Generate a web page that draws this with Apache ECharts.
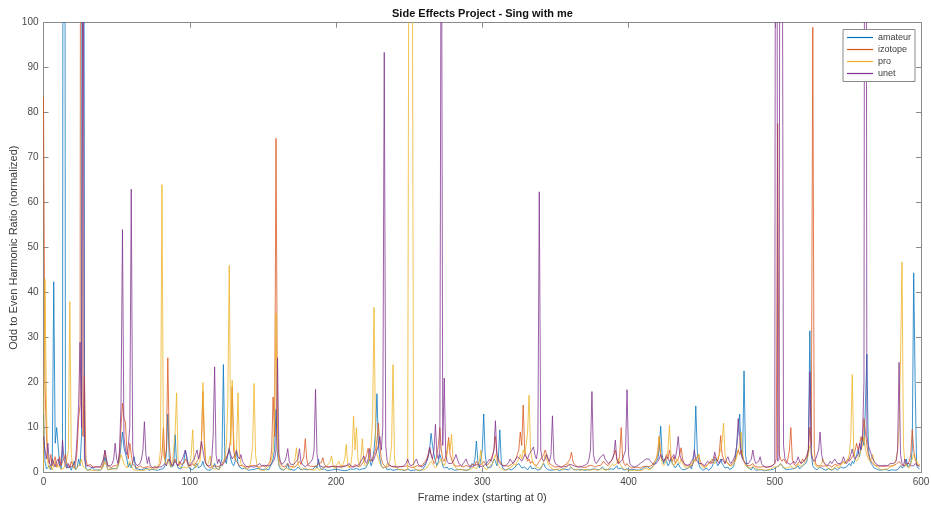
<!DOCTYPE html>
<html>
<head>
<meta charset="utf-8">
<script src="https://cdn.jsdelivr.net/npm/echarts@6/dist/echarts.min.js"></script>
<style>
html,body{margin:0;padding:0;background:#fff;}
#chart{width:931px;height:508px;}
</style>
</head>
<body>
<div id="chart"></div>
<script>
const seriesNames = ['amateur', 'izotope', 'pro', 'unet'];
const xTicks = [0, 100, 200, 300, 400, 500, 600];
const yTicks = [0, 10, 20, 30, 40, 50, 60, 70, 80, 90, 100];

const amateur = [
13, 2.5, 0.8, 0.4, 1.5, 0.6, 2.2, 42.4, 6.5, 10,
9.6, 2, 0.8, 4, 400, 3, 1, 0.6, 1.2, 0.5,
0.8, 2.5, 0.6, 1.1, 3, 1.5, 8, 400, 5, 1,
0.5, 0.8, 0.6, 1.2, 0.9, 0.5, 0.7, 0.6, 0.8, 0.5,
0.7, 1.5, 3.5, 1.8, 0.6, 0.5, 0.8, 0.4, 0.9, 1.2,
0.8, 1.5, 3, 6, 9, 5.5, 5.5, 3, 1.2, 2,
1, 0.8, 3.5, 0.9, 0.5, 0.7, 0.4, 0.6, 0.5, 0.8,
0.6, 1, 0.5, 0.4, 0.7, 0.5, 0.6, 0.8, 0.5, 0.6,
0.7, 0.5, 0.9, 1.5, 4, 13, 3, 1.2, 0.8, 1.5,
8.4, 2, 1, 0.6, 0.8, 1.2, 2.5, 5, 3.5, 1.5,
0.8, 1, 0.6, 0.8, 1.5, 2, 1, 0.7, 1.5, 2.5,
1.2, 0.8, 0.6, 0.9, 0.5, 0.7, 1.2, 2, 1, 0.8,
0.6, 1, 3, 24, 3, 2, 4, 5.5, 3, 2,
1.5, 2.5, 4.5, 2, 1.2, 1.5, 0.8, 0.6, 1, 0.7,
0.5, 0.8, 0.6, 0.4, 0.7, 0.5, 0.9, 0.6, 0.8, 1,
0.6, 0.5, 0.8, 1.2, 0.6, 1, 2, 3, 5, 14,
4, 1.5, 0.8, 0.6, 0.5, 0.8, 1, 2, 0.7, 0.5,
0.6, 0.8, 0.5, 0.7, 1.2, 0.9, 0.6, 0.5, 0.8, 1,
0.6, 0.5, 0.7, 0.4, 0.6, 0.8, 1.5, 1, 3, 1.2,
0.7, 0.5, 0.8, 0.6, 0.4, 0.6, 0.5, 0.8, 0.6, 0.5,
0.7, 0.4, 0.6, 0.8, 0.5, 0.6, 0.4, 0.7, 0.5, 0.6,
0.8, 0.5, 0.7, 0.6, 0.9, 0.5, 0.6, 1, 0.8, 0.6,
0.9, 1.2, 2, 3, 1.5, 2.5, 5, 9, 17.5, 6,
3, 1.5, 1, 0.8, 1.2, 0.6, 0.5, 0.8, 0.6, 0.5,
0.4, 0.6, 0.5, 0.7, 0.4, 0.6, 0.5, 0.4, 0.6, 0.8,
0.5, 0.4, 0.6, 0.5, 0.8, 0.6, 0.5, 0.4, 0.7, 0.6,
0.9, 1.5, 2.5, 3.5, 5, 8.7, 6, 4, 2.5, 1.5,
2.5, 4, 3, 1.5, 1, 0.8, 1.2, 0.7, 0.6, 0.9,
0.6, 0.5, 0.8, 0.6, 0.4, 0.7, 0.5, 0.6, 0.4, 0.5,
0.8, 0.6, 1.2, 2, 1.5, 3, 7, 2.5, 1, 0.8,
5, 13, 4, 1.5, 1, 0.8, 1.2, 2, 3, 2.5,
1.5, 3, 9.5, 2.5, 1, 0.7, 0.5, 0.6, 0.8, 0.5,
0.6, 0.8, 1, 1.5, 1.2, 2, 1.5, 1, 0.8, 1.2,
0.9, 0.6, 1, 1.5, 0.8, 0.6, 1, 0.7, 0.5, 0.6,
0.8, 1.5, 2, 1.2, 0.8, 0.6, 0.9, 0.5, 0.7, 0.6,
0.5, 0.7, 0.6, 0.4, 0.6, 0.8, 0.5, 0.7, 0.9, 0.6,
0.8, 1.2, 0.7, 0.5, 0.6, 0.8, 0.6, 0.5, 0.7, 0.6,
0.5, 0.4, 0.6, 0.8, 0.6, 1, 0.8, 0.6, 0.7, 0.5,
0.6, 0.9, 1.2, 0.8, 0.6, 0.5, 0.7, 0.6, 0.8, 0.5,
0.7, 1, 1.5, 0.8, 0.6, 1, 0.7, 0.5, 0.6, 0.8,
0.5, 0.6, 0.4, 0.7, 0.5, 0.6, 0.8, 0.5, 0.6, 0.7,
0.9, 1.2, 1.5, 1.3, 1, 0.8, 1.2, 1.5, 2, 2.5,
3, 5, 10.3, 4, 2, 3, 2.5, 1.5, 2, 3,
2, 1.5, 1, 1.5, 2, 1.2, 0.8, 0.6, 0.5, 0.7,
0.8, 1, 1.5, 0.8, 2, 4, 14.8, 5, 2, 1,
0.7, 0.5, 0.8, 1, 0.6, 0.5, 0.7, 1.2, 2, 3,
2.5, 1.5, 2, 3, 2, 1.5, 1, 0.8, 1.2, 0.7,
0.6, 1, 1.5, 3, 6, 9, 13, 5, 3, 22.6,
4, 1.5, 1, 0.8, 0.6, 1.2, 0.8, 0.5, 0.7, 0.6,
0.8, 0.6, 0.5, 0.4, 0.6, 0.5, 0.8, 0.6, 0.5, 0.7,
0.8, 1.2, 0.9, 1.5, 2, 1.5, 1, 0.8, 0.6, 0.5,
0.7, 1, 0.8, 0.6, 0.9, 1.2, 1.5, 0.8, 1, 1.5,
1.2, 2, 2.5, 5, 31.5, 4, 1.5, 1, 0.8, 0.6,
0.7, 1.2, 1, 0.8, 0.6, 0.5, 0.7, 0.9, 0.6, 0.5,
0.8, 1, 0.7, 0.6, 0.8, 1.2, 1.5, 1, 0.8, 1.2,
1.5, 2, 1.5, 2.5, 2, 3, 4, 5, 3.5, 6,
8, 6, 15, 26.3, 5, 3, 2, 1.5, 1, 0.8,
0.7, 0.6, 0.5, 0.8, 0.6, 0.5, 0.7, 0.6, 0.4, 0.5,
0.6, 0.8, 0.5, 0.7, 0.6, 1, 1.5, 1, 0.8, 1.5,
3, 1.2, 0.8, 2, 5, 44.4, 20, 1.5, 1, 0.8
];

const izotope = [
83.5, 20, 8, 3, 2, 4, 1.5, 2.5, 3.5, 1.2,
2, 3.5, 1.5, 2.5, 3, 4, 2, 1.5, 1, 2.5,
1.5, 1, 2, 5, 12, 15, 400, 8, 21.5, 3,
1.5, 1.2, 1.8, 1.5, 1.2, 1, 1.3, 1.5, 1.2, 1,
1.2, 2.5, 4.8, 3, 1.5, 1.2, 1, 1.3, 1.5, 1.2,
1.5, 2, 4, 10, 15.4, 12, 11.3, 5, 3, 6.5,
4, 2, 1.5, 1.2, 1, 1.3, 1.5, 1.2, 1, 1.4,
1.2, 1, 1.3, 1.1, 1, 1.2, 1.4, 1.2, 1, 1.5,
2, 4, 10, 3, 5, 25.5, 6, 2.5, 1.5, 2,
3, 2, 1.5, 2.5, 1.8, 1.5, 2, 3, 2.5, 1.5,
1.2, 1.5, 2, 1.5, 1.2, 2.5, 3, 4.5, 7, 18,
6, 2, 1.5, 1.2, 1, 1.3, 1.5, 1.2, 1.4, 1.2,
1.3, 1.5, 2, 2.5, 3, 3.5, 4, 5, 8, 19,
5, 3, 2.5, 2, 1.5, 1.3, 1.6, 1.4, 1.2, 1.5,
1.3, 1.2, 1.5, 1.4, 1.6, 1.2, 1.3, 1.5, 1.2, 1.4,
1.5, 1.3, 1.2, 1.6, 2, 2.5, 5, 16.8, 8, 74.3,
10, 3, 2, 1.5, 1.3, 1.2, 1.5, 2, 1.4, 1.2,
1.3, 1.5, 1.2, 1.6, 2, 2.5, 1.8, 2, 3.5, 7.5,
3, 1.5, 1.2, 1.4, 1.6, 1.3, 1.2, 1.5, 2, 1.6,
2.2, 3.3, 1.8, 1.4, 1.2, 1.5, 1.3, 1.2, 1.4, 1.1,
1.2, 1.4, 1.3, 1.1, 1.5, 1.2, 1.4, 1.3, 1.6, 1.4,
1.2, 1.5, 1.3, 1.8, 1.5, 1.3, 1.2, 1.5, 2, 2.5,
3, 4, 5.4, 3, 2.5, 3, 4, 5, 7, 11,
6, 3, 2, 1.5, 1.3, 1.2, 1.4, 1.6, 1.3, 1.2,
1.4, 1.2, 1.5, 1.3, 1.1, 1.3, 1.2, 1.4, 1.2, 1.5,
1.3, 1.2, 1.4, 1.1, 1.3, 1.5, 1.2, 1.4, 1.3, 1.6,
1.8, 2.5, 3, 4, 5.5, 4, 3, 2, 2.5, 4,
6, 10, 5, 3, 2.5, 3.5, 5, 7.8, 4, 3,
2, 1.5, 1.8, 1.4, 1.2, 1.5, 1.3, 1.2, 1.4, 1.6,
1.4, 1.2, 1.5, 1.8, 2, 1.6, 2.5, 2, 1.5, 1.8,
2, 2.5, 2, 1.5, 1.8, 2.2, 3, 4, 5, 8,
4, 3, 2.5, 2, 1.5, 1.3, 1.5, 1.2, 1.4, 1.6,
1.8, 2, 2.5, 3, 4, 5, 9, 6, 15, 5,
3.5, 2.5, 3, 2, 2.5, 2, 1.8, 1.5, 2, 2.5,
3, 3.5, 4, 5, 4, 3, 2, 1.8, 1.5, 1.3,
1.2, 1.4, 1.3, 1.5, 1.2, 1.4, 1.6, 1.8, 2, 2.5,
3, 4.5, 2.5, 1.8, 1.5, 1.3, 1.2, 1.4, 1.2, 1.1,
1.3, 1.2, 1.4, 1.5, 1.3, 1.6, 1.4, 1.2, 1.3, 1.5,
1.4, 1.6, 2, 2.5, 2, 1.8, 1.5, 2, 2.5, 3,
4, 5, 3, 2, 4, 10, 3, 2, 1.5, 2,
1.5, 1.2, 1, 1.2, 1.1, 1, 1.2, 1.1, 1, 1.2,
1.3, 1.5, 1.4, 1.2, 1.3, 1.5, 1.6, 2, 2.5, 3,
4, 8, 4, 3, 2.5, 3, 4, 3, 5, 3,
2.5, 3.5, 2, 2.5, 3, 4, 5.5, 3, 2, 1.5,
1.3, 1.5, 1.2, 1.4, 2, 2.5, 3, 3.5, 4, 2.5,
1.8, 1.5, 1.3, 1.5, 1.8, 2, 2.5, 2, 2.5, 3.5,
3, 2.5, 4, 8.2, 4, 3, 2, 2.5, 2, 1.8,
1.5, 2, 2.5, 3, 4, 5, 4, 5, 3.5, 2.5,
2, 1.5, 1.3, 1.5, 1.8, 2, 1.5, 1.3, 1.2, 1.4,
1.2, 1.5, 1.3, 1.1, 1.2, 1.4, 1.2, 1.3, 1.5, 1.8,
2, 3, 77.6, 4, 3, 2.5, 3, 2.5, 2, 3,
5, 10, 3, 2, 1.5, 1.8, 2, 2.5, 2, 3,
2.5, 3, 4, 5, 10, 6, 99, 5, 2, 1.5,
1.3, 1.5, 1.2, 1.4, 1.2, 1.5, 1.3, 1.6, 1.4, 1.2,
1.5, 1.8, 2, 1.6, 1.4, 1.8, 2.2, 2.5, 2, 2.5,
3, 2.5, 3, 3.5, 4, 5, 6.5, 5, 6, 8,
7, 12, 9, 6, 4, 3, 2.5, 2, 1.8, 1.5,
1.3, 1.5, 1.2, 1.4, 1.6, 1.3, 1.2, 1.5, 1.3, 1.4,
1.2, 1.5, 1.3, 1.8, 2, 2.5, 2, 1.5, 1.3, 1.5,
1.8, 2, 2.5, 4, 9.5, 5, 3, 2, 1.5, 1.8
];

const pro = [
1, 43, 15, 2, 0.8, 1.5, 0.6, 1, 2.5, 1.2,
0.8, 1.5, 0.6, 0.4, 1, 2, 3, 5, 38, 4,
1.5, 0.8, 0.5, 1, 0.6, 2, 3, 1.5, 1, 0.8,
0.5, 0.4, 0.6, 0.5, 0.4, 0.6, 0.5, 0.7, 0.5, 0.6,
0.8, 1.5, 2.5, 1.5, 0.6, 0.5, 0.7, 0.6, 0.8, 1,
0.8, 1.2, 2.5, 4, 3, 2, 1.5, 1, 0.8, 2.5,
1.5, 0.8, 0.6, 0.5, 0.7, 0.5, 0.6, 0.4, 0.7, 0.5,
0.6, 0.8, 0.5, 0.7, 0.6, 0.8, 1, 0.7, 1.2, 2,
5, 64, 4, 2.5, 1.5, 3, 2, 1.2, 2, 5,
9, 17.7, 3, 1.5, 1, 0.8, 1.2, 1.5, 1, 0.8,
1.5, 4, 9.5, 2, 1, 1.5, 2, 2.5, 6, 20,
8, 2, 1.5, 2.5, 3.7, 1.5, 0.8, 0.6, 0.8, 0.5,
0.7, 1, 1.5, 2, 3, 6, 15, 46, 6, 20.5,
8, 3, 5, 17.7, 4, 2, 1.5, 1.2, 0.8, 0.6,
0.8, 1.5, 3, 6, 19.8, 4, 1.5, 0.8, 0.6, 0.5,
0.6, 0.5, 0.8, 1, 1.5, 2, 3, 5, 12, 35.4,
6, 2, 1.2, 0.8, 0.6, 0.8, 1, 0.7, 0.6, 0.8,
1, 1.5, 3, 5.5, 2, 1.2, 0.8, 0.6, 0.8, 1,
0.8, 0.6, 0.5, 0.7, 0.6, 0.5, 0.8, 1, 0.6, 0.5,
0.7, 1, 0.8, 1.2, 1.5, 2, 2.5, 3.7, 1.5, 0.8,
1.2, 2, 2.5, 1.5, 1, 1.2, 3, 6.2, 2, 1,
1.5, 4, 12.5, 5, 10, 3, 1.5, 3, 7.5, 2.5,
1.5, 1.2, 2, 3.5, 6, 12, 36.7, 8, 4, 3,
2, 1.5, 1, 0.8, 1.2, 2, 1.5, 3, 6, 24,
3, 1.2, 0.8, 0.6, 0.5, 0.7, 0.6, 0.5, 0.8, 0.6,
1, 300, 300, 1.5, 0.8, 0.6, 0.5, 0.7, 0.6, 0.5,
0.6, 0.8, 1, 1.5, 2, 2.5, 2, 1.5, 1, 1.5,
2, 2.5, 3, 2, 1.5, 2.5, 4, 7, 5, 8.5,
3, 1.5, 1, 0.8, 0.6, 0.5, 0.7, 0.6, 0.5, 0.8,
0.6, 0.5, 0.7, 1, 1.2, 1, 0.8, 1.5, 2.5, 5,
2, 1.2, 0.8, 0.6, 1, 1.5, 1.2, 2, 3, 4,
2.5, 1.5, 1.2, 0.8, 0.6, 0.5, 0.7, 0.6, 0.8, 1,
1.2, 1.5, 2, 1.5, 2.5, 3, 4, 3, 5, 4,
6, 9, 17.2, 5, 3, 2, 1.5, 1.2, 1, 0.8,
1, 1.5, 2.5, 4, 3, 2, 1.5, 1, 0.8, 0.6,
0.5, 0.7, 0.6, 0.8, 0.5, 0.6, 0.8, 1, 1.5, 2,
1.5, 1, 0.8, 0.6, 0.5, 0.7, 0.6, 0.5, 0.4, 0.6,
0.5, 0.7, 0.6, 0.5, 0.8, 0.6, 0.5, 0.7, 0.6, 0.5,
0.6, 0.8, 1, 0.7, 0.6, 0.5, 0.8, 1, 1.5, 2,
1.5, 1.2, 2, 3, 2, 1.5, 1, 0.8, 0.6, 0.5,
0.6, 0.5, 0.4, 0.6, 0.5, 0.7, 0.5, 0.6, 0.4, 0.5,
0.6, 0.8, 1, 0.8, 0.6, 0.8, 1, 1.5, 2.5, 3,
5, 8, 4, 2, 1.5, 2, 3, 5, 10.5, 4,
2, 1.5, 2, 3, 2.5, 2, 3, 2, 1.5, 1,
0.8, 1, 1.5, 2, 2.5, 3, 2.5, 3, 4, 2,
1.5, 1, 0.8, 1.2, 1.5, 2, 2.5, 3, 2.5, 2,
2.5, 3, 4, 5, 7, 11, 4, 2.5, 2, 1.5,
1.2, 1.5, 2, 2.5, 3.5, 5, 6, 9, 4, 2.5,
1.5, 1.2, 1, 0.8, 1, 1.5, 1.2, 1, 0.8, 0.6,
0.5, 0.7, 0.6, 0.5, 0.4, 0.6, 0.5, 0.7, 1, 1.2,
1.5, 1.2, 1, 1.5, 2, 1.5, 1.2, 1, 0.8, 1,
1.2, 1.5, 1, 0.8, 1, 1.5, 2, 1.5, 1.2, 1.5,
2, 2.5, 3, 4, 6, 5, 3, 2, 1.5, 1.2,
1, 1.5, 2, 3, 2, 1.5, 1, 0.8, 0.6, 0.5,
0.7, 1, 1.5, 1.2, 1, 1.5, 2, 2.5, 2, 2.5,
3, 4, 8, 21.8, 5, 3, 2.5, 3, 4, 5,
6, 8, 5, 4, 3, 2.5, 3, 4, 2, 1.5,
1.2, 1, 0.8, 0.6, 0.5, 0.7, 0.6, 0.8, 1, 1.2,
1, 1.5, 2, 3, 5, 10, 25, 46.8, 6, 2,
1.5, 1.2, 1, 2, 3, 4, 3, 2.5, 2, 1.5
];

const unet = [
8, 5, 3, 6.5, 2, 1.5, 3, 2, 1.2, 2.5,
3, 1.5, 2, 7.2, 3, 1.5, 1, 2, 1.2, 1,
1.5, 2, 3, 8, 15, 29, 10, 150, 3, 1.5,
1.2, 1.5, 1.3, 1.1, 1, 1.2, 1.4, 1.2, 1, 1.3,
1.5, 3, 5, 3, 1.5, 1.2, 1.5, 2, 3, 6.5,
3, 2, 5, 15, 54, 8, 5, 4, 6, 10,
63, 5, 2.5, 2, 1.5, 1.8, 2, 3, 5, 11.3,
4, 2, 3.5, 1.5, 1.2, 1, 1.3, 1.2, 1.5, 1.2,
1, 1.3, 1.5, 2, 1.5, 2.5, 3, 2, 1.5, 2,
2.5, 2, 1.5, 2, 2.5, 3, 4, 5, 3, 2,
1.5, 2, 2.5, 3, 4, 5, 3, 4, 7, 5,
3, 2, 1.5, 1.3, 1.5, 3, 8, 23.5, 4, 2,
3, 2, 1.5, 2, 2.5, 3, 4, 5, 4, 3,
3.5, 4, 5, 3.5, 3, 4, 2.5, 2, 1.5, 1.3,
1.2, 1.4, 1.3, 1.5, 1.2, 1.4, 1.6, 1.8, 2, 1.5,
1.3, 1.6, 2, 1.5, 1.3, 1.5, 2, 2.5, 3, 5,
25.5, 4, 2.5, 1.8, 2, 2.5, 3.5, 5.3, 2.5, 1.8,
1.5, 1.8, 2, 2.5, 3, 5.3, 2.5, 1.8, 1.5, 1.3,
1.5, 1.8, 2, 2.5, 3, 5, 18.5, 4, 2, 1.5,
1.3, 1.2, 1.5, 1.3, 1.1, 1.2, 1.4, 1.3, 1.2, 1.4,
1.2, 1.3, 1.5, 1.2, 1.4, 1.3, 1.2, 1.5, 1.6, 2,
1.5, 1.3, 1.2, 1.4, 1.5, 1.3, 1.8, 2.5, 3, 3.7,
2.5, 2, 3, 5.3, 3, 2.5, 3, 4, 5, 6,
8, 5, 10, 93.4, 6, 2.5, 1.8, 1.5, 1.3, 1.2,
1.4, 1.3, 1.2, 1.5, 1.3, 1.2, 1.4, 1.6, 2, 3,
2, 1.5, 1.3, 1.8, 2.5, 3, 2, 1.5, 1.3, 1.2,
1.5, 2, 2.5, 3.5, 5.6, 4, 3, 5, 10.7, 4,
3, 5, 150, 6, 21, 4, 2.5, 2, 1.8, 2,
2.5, 3, 4, 3, 2, 1.8, 1.5, 2, 2.5, 3,
2, 1.5, 1.3, 1.2, 1.4, 1.6, 2, 1.8, 1.5, 1.3,
1.2, 1.5, 1.8, 2, 2.5, 3, 2.5, 3.5, 5, 11.5,
4, 2.5, 2, 1.8, 1.5, 1.3, 1.5, 1.8, 2.2, 3,
2.5, 2, 2.5, 3, 3.5, 3.7, 3, 2.5, 3, 4,
3.5, 3, 4, 4.5, 5, 5.7, 4, 3, 5, 62.4,
5, 3, 2.5, 3, 4, 3, 2.5, 4, 12.6, 3,
2, 1.8, 1.5, 1.3, 1.2, 1.5, 1.3, 1.2, 1.4, 1.6,
1.8, 2, 1.6, 1.4, 1.3, 1.5, 1.2, 1.4, 1.3, 1.5,
1.6, 1.8, 2, 3, 5, 18, 4, 2.5, 2, 2.5,
3, 3.5, 3.8, 4, 3, 2.5, 2, 1.8, 2.5, 3,
4, 7.2, 3, 2, 1.8, 2.5, 3, 4, 5, 18.4,
4, 2, 1.5, 1.3, 1.2, 1.4, 1.5, 1.8, 2, 2.2,
2.5, 2.8, 3, 2.8, 3, 2.5, 2.2, 1.8, 1.6, 2,
2.5, 3, 4, 3, 2.5, 3, 3.5, 3, 2.5, 3,
3.5, 4, 3, 5, 8, 4, 3, 2.5, 2, 1.8,
1.6, 1.5, 1.8, 2.5, 3, 5, 3, 2.5, 2, 1.8,
2, 1.8, 1.5, 2, 2.5, 2.2, 2, 2.5, 3, 4.5,
3, 2.5, 2, 2.5, 3, 2.5, 2, 3, 3.5, 2.5,
2, 2.5, 3, 4, 6, 12, 8, 4, 3, 2.5,
2, 1.8, 2, 2.5, 3, 5, 3, 2, 1.8, 2.5,
3.5, 2, 1.5, 1.3, 1.2, 1.5, 1.3, 1.2, 1.4, 1.6,
2, 300, 2.5, 3, 300, 300, 6, 3, 2.5, 2,
2, 1.8, 2, 2.5, 2, 2.5, 3.5, 2.5, 2, 1.8,
2.5, 3, 3.5, 5, 22.4, 4, 3, 2.5, 3, 4,
5, 9, 4, 2.5, 2, 1.8, 1.5, 2, 2.5, 2,
2.5, 3, 2.5, 2, 1.8, 2, 2.5, 3.5, 2.5, 2,
2.5, 3, 4, 5.2, 3.5, 3, 3.5, 4, 6.5, 5,
8, 20, 300, 8, 6, 5, 4, 3, 2.5, 2,
1.8, 1.5, 1.3, 1.5, 1.8, 1.6, 1.4, 1.5, 1.8, 2,
2.2, 2, 1.8, 2.5, 5, 24.5, 4, 2, 1.5, 3,
2, 1.8, 2, 1.5, 1.3, 1.5, 2, 1.8, 1.5, 1.3
];

const colors = ['#0072BD', '#D95319', '#EDB120', '#7E2F8E'];
const allData = [amateur, izotope, pro, unet];
const FONT = '"Liberation Sans", Arial, Helvetica, sans-serif';
const GRID = {left: 43.5, right: 10, top: 22.7, bottom: 35.5};

const chart = echarts.init(document.getElementById('chart'), null, {renderer: 'canvas'});

const axisLineStyle = {color: '#8a8a8a', width: 1};
function baseX(pos, showLabel) {
  return {
    type: 'value', position: pos, min: xTicks[0], max: xTicks[xTicks.length - 1], interval: 100,
    axisLine: {show: true, onZero: false, lineStyle: axisLineStyle},
    axisTick: {show: true, inside: true, length: 5, lineStyle: axisLineStyle},
    axisLabel: {show: showLabel, margin: 5, fontSize: 10, color: '#4a4a4a', fontFamily: FONT},
    splitLine: {show: false}
  };
}
function baseY(pos, showLabel) {
  return {
    type: 'value', position: pos, min: yTicks[0], max: yTicks[yTicks.length - 1], interval: 10,
    axisLine: {show: true, onZero: false, lineStyle: axisLineStyle},
    axisTick: {show: true, inside: true, length: 5, lineStyle: axisLineStyle},
    axisLabel: {show: showLabel, margin: 5, fontSize: 10, color: '#4a4a4a', fontFamily: FONT},
    splitLine: {show: false}
  };
}

const xBottom = Object.assign(baseX('bottom', true), {
  name: 'Frame index (starting at 0)', nameLocation: 'middle', nameGap: 20, nameMoveOverlap: false,
  nameTextStyle: {fontSize: 11, color: '#3a3a3a', fontFamily: FONT}
});
const yLeft = Object.assign(baseY('left', true), {
  name: 'Odd to Even Harmonic Ratio (normalized)', nameLocation: 'middle', nameGap: 24, nameMoveOverlap: false,
  nameTextStyle: {fontSize: 11, color: '#3a3a3a', fontFamily: FONT}
});

const option = {
  animation: false,
  backgroundColor: '#fff',
  grid: Object.assign({containLabel: false, outerBoundsMode: 'none'}, GRID),
  graphic: [{
    type: 'text', x: 482.5, y: 14,
    style: {text: 'Side Effects Project - Sing with me', fill: '#111', font: 'bold 11px ' + FONT,
            textAlign: 'center', textVerticalAlign: 'middle'}
  }],
  legend: {
    orient: 'vertical', left: 843, top: 29.5,
    data: seriesNames.map((n, k) => ({name: n, icon: 'rect', itemStyle: {color: colors[k], borderWidth: 0}})),
    itemWidth: 26, itemHeight: 1.2, itemGap: 0,
    padding: [2, 4, 2, 4],
    backgroundColor: '#fff', borderColor: '#8a8a8a', borderWidth: 1,
    textStyle: {fontSize: 9, lineHeight: 12, color: '#3a3a3a', fontFamily: FONT}
  },
  xAxis: [xBottom, baseX('top', false)],
  yAxis: [yLeft, baseY('right', false)],
  series: seriesNames.map((name, k) => ({
    name: name, type: 'line', xAxisIndex: 0, yAxisIndex: 0,
    data: allData[k].map((v, i) => [i, v]),
    symbol: 'none', showSymbol: false, clip: true,
    itemStyle: {color: colors[k]},
    lineStyle: {width: 0.9, color: colors[k], opacity: 0.85},
    emphasis: {disabled: true}
  }))
};
chart.setOption(option);
</script>
</body>
</html>
